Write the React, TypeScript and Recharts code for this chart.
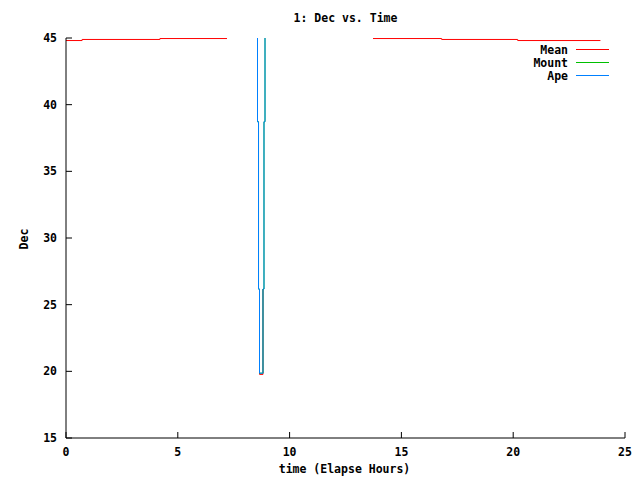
import React from 'react';
import { LineChart, Line, XAxis, YAxis, Legend } from 'recharts';

// hours since start / declination
const meanTime = [0, 0.72, 0.72, 4.2, 4.2, 7.2, 7.6, 8.654, 8.654, 8.81, 8.81, 9.5, 13.73, 16.8, 16.8, 20.2, 20.2, 23.9];
const meanDec = [44.81, 44.81, 44.89, 44.89, 44.96, 44.96, null, 26.17, 19.77, 19.77, 26.17, null, 44.96, 44.96, 44.89, 44.89, 44.81, 44.81];

const mountTime = [8.565, 8.565, 8.61, 8.61, 8.654, 8.654, 8.81, 8.81, 8.855, 8.855, 8.9, 8.9];
const mountDec = [45, 38.72, 38.72, 26.17, 26.17, 19.86, 19.86, 26.17, 26.17, 38.72, 38.72, 45];

const apeTime = [8.565, 8.565, 8.61, 8.61, 8.654, 8.654, 8.81, 8.81, 8.855, 8.855, 8.9, 8.9];
const apeDec = [45, 38.72, 38.72, 26.17, 26.17, 19.86, 19.86, 26.17, 26.17, 38.72, 38.72, 45];

const xTicks = [0, 5, 10, 15, 20, 25];
const yTicks = [15, 20, 25, 30, 35, 40, 45];

const series = [
  { name: 'Mean', color: '#ff0000', time: meanTime, dec: meanDec },
  { name: 'Mount', color: '#00c000', time: mountTime, dec: mountDec },
  { name: 'Ape', color: '#0080ff', time: apeTime, dec: apeDec },
];

const toRows = (time: number[], dec: (number | null)[]) =>
  time.map((t, i) => ({ t, v: dec[i] }));

const FONT = '"DejaVu Sans Mono", "Liberation Mono", monospace';
const tickStyle = { fontFamily: FONT, fontSize: 11.5, fontWeight: 'bold', fill: '#000' };

const GnuLegend = () => (
  <div style={{ fontFamily: FONT, fontSize: 11.5, fontWeight: 'bold' }}>
    {series.map((s) => (
      <div key={s.name} style={{ display: 'flex', alignItems: 'center', height: 13 }}>
        <span style={{ width: 68, textAlign: 'right' }}>{s.name}</span>
        <svg width={41} height={13} style={{ display: 'block' }}>
          <line x1={8} x2={41} y1={6.5} y2={6.5} stroke={s.color} strokeWidth={1} />
        </svg>
      </div>
    ))}
  </div>
);

export default function App() {
  return (
    <div style={{ position: 'absolute', left: 0, top: 0, width: 640, height: 480, background: '#fff' }}>
      <div style={{ position: 'absolute', top: 11, left: 0, width: 691, textAlign: 'center', fontFamily: FONT, fontSize: 11.5, fontWeight: 'bold' }}>
        1: Dec vs. Time
      </div>
      <div style={{ position: 'absolute', top: 462, left: 0, width: 689, textAlign: 'center', fontFamily: FONT, fontSize: 11.5, fontWeight: 'bold' }}>
        time (Elapse Hours)
      </div>
      <div style={{ position: 'absolute', left: 24, top: 239, transform: 'translate(-50%, -50%) rotate(-90deg)', fontFamily: FONT, fontSize: 11.5, fontWeight: 'bold' }}>
        Dec
      </div>
      <LineChart width={640} height={480} margin={{ top: 38, right: 15, bottom: 12, left: 10 }}>
        <XAxis
          type="number"
          dataKey="t"
          domain={[0, 25]}
          ticks={xTicks}
          allowDataOverflow
          height={30}
          tickSize={-6}
          tickMargin={16}
          stroke="#000"
          tick={tickStyle}
        />
        <XAxis
          xAxisId="top"
          orientation="top"
          type="number"
          dataKey="t"
          domain={[0, 25]}
          ticks={xTicks}
          height={0}
          tickSize={-6}
          stroke="#000"
          tick={false}
        />
        <YAxis
          type="number"
          domain={[15, 45]}
          ticks={yTicks}
          allowDataOverflow
          width={56}
          tickSize={-6}
          tickMargin={15}
          stroke="#000"
          tick={tickStyle}
        />
        <YAxis
          yAxisId="right"
          orientation="right"
          type="number"
          domain={[15, 45]}
          ticks={yTicks}
          width={0}
          tickSize={-6}
          stroke="#000"
          tick={false}
        />
        <Legend
          layout="vertical"
          align="center"
          verticalAlign="middle"
          wrapperStyle={{ position: 'absolute', left: 500, top: 43, width: 115 }}
          content={() => <GnuLegend />}
        />
        {series.map((s) => (
          <Line
            key={s.name}
            name={s.name}
            data={toRows(s.time, s.dec)}
            dataKey="v"
            type="linear"
            stroke={s.color}
            strokeWidth={1}
            dot={false}
            activeDot={false}
            isAnimationActive={false}
          />
        ))}
      </LineChart>
    </div>
  );
}
